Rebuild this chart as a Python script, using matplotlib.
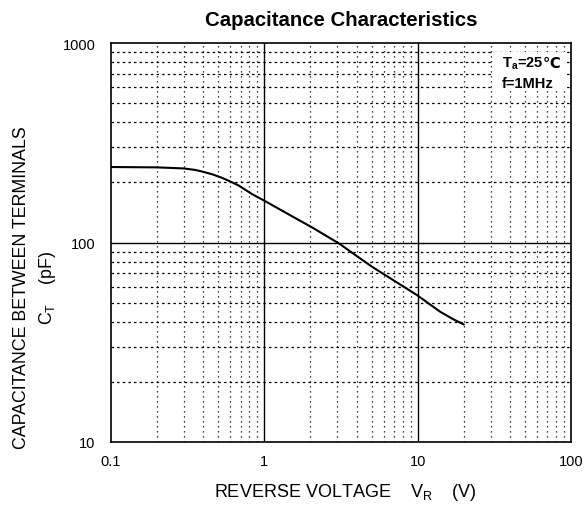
import matplotlib
matplotlib.use("Agg")
import matplotlib.pyplot as plt
import numpy as np
from matplotlib.ticker import FixedLocator, FixedFormatter
from matplotlib.patches import Rectangle

plt.rcParams['font.family'] = ['Liberation Sans', 'DejaVu Sans']
plt.rcParams['mathtext.fontset'] = 'custom'
plt.rcParams['mathtext.rm'] = 'Liberation Sans'
plt.rcParams['mathtext.bf'] = 'Liberation Sans:bold'

voltage = [0.1, 0.2, 0.3, 0.355, 0.4, 0.455, 0.53, 0.61, 0.68, 0.83, 1.0, 1.5, 2.05, 3.06, 5.05, 9.9, 14.0, 17.0, 20.0]
capacitance = [239, 238, 235, 231, 226, 220, 211, 201, 193, 175, 162, 136, 119, 99, 75.5, 54.5, 45, 41.3, 38.8]

x_ticks = [0.1, 1, 10, 100]
x_labels = ['0.1', '1', '10', '100']
y_ticks = [10, 100, 1000]
y_labels = ['10', '100', '1000']

fig = plt.figure(figsize=(5.84, 5.10), dpi=100)
ax = fig.add_axes([111/584, 1-443/510, 460/584, 399/510])
ax.set_xscale('log')
ax.set_yscale('log')
ax.set_xlim(0.1, 100)
ax.set_ylim(10, 1000)

# minor grid (dotted)
xminor = [m * d for d in [0.1, 1, 10] for m in range(2, 10)]
yminor = [m * d for d in [10, 100] for m in range(2, 10)]
for xv in xminor:
    ax.axvline(xv, color='black', lw=0.9, ls=(0, (1, 3)), zorder=1)
for yv in yminor:
    ax.axhline(yv, color='black', lw=0.9, ls=(0, (2, 2.5)), zorder=1)
for xv in [1, 10]:
    ax.axvline(xv, color='black', lw=1.0, zorder=2)
ax.axhline(100, color='black', lw=1.0, zorder=2)

ax.plot(voltage, capacitance, color='black', lw=1.5, zorder=3,
        solid_joinstyle='round', solid_capstyle='round')

ax.xaxis.set_major_locator(FixedLocator(x_ticks))
ax.xaxis.set_major_formatter(FixedFormatter(x_labels))
ax.yaxis.set_major_locator(FixedLocator(y_ticks))
ax.yaxis.set_major_formatter(FixedFormatter(y_labels))
ax.xaxis.set_minor_locator(FixedLocator([]))
ax.yaxis.set_minor_locator(FixedLocator([]))
ax.tick_params(axis='both', length=0, labelsize=10.5)
ax.tick_params(axis='x', pad=9)
ax.tick_params(axis='y', pad=11)
for s in ax.spines.values():
    s.set_linewidth(1.2)

fig.text(341/584, 1-21/510, 'Capacitance Characteristics', ha='center', va='center',
         fontsize=14.7, fontweight='bold')
fig.text(345/584, 1-493/510, r'REVERSE VOLTAGE    V$_\mathregular{R}$    (V)', ha='center', va='center',
         fontsize=13)
fig.text(22/584, 1-288/510, 'CAPACITANCE BETWEEN TERMINALS', rotation=90, ha='center', va='center',
         fontsize=12.8)
fig.text(47/584, 1-288/510, r'C$_\mathregular{T}$    (pF)', rotation=90, ha='center', va='center',
         fontsize=12.8)

# white background patch behind the annotations
ax.add_patch(Rectangle(((492-111)/460, 1-(92-44)/399), (567-492)/460, (92-53)/399,
                       transform=ax.transAxes, facecolor='white', edgecolor='none', zorder=4))
ax.text((544-111)/460, 1-(64-44)/399, r'T$_\mathregular{a}$=25', transform=ax.transAxes,
        ha='right', va='center', fontsize=10.5, fontweight='bold', zorder=5)
ax.text((543-111)/460, 1-(63-44)/399, '℃', transform=ax.transAxes,
        ha='left', va='center', fontsize=10.5, fontweight='bold', family='DejaVu Sans', zorder=5)
ax.text((528-111)/460, 1-(84-44)/399, 'f=1MHz', transform=ax.transAxes, ha='center', va='center',
        fontsize=10.5, fontweight='bold', zorder=5)

fig.savefig('out.png', dpi=100)
